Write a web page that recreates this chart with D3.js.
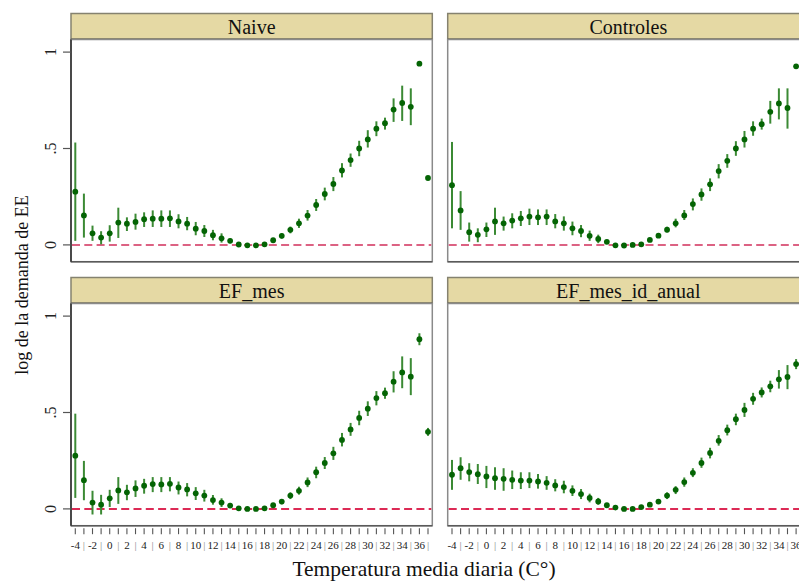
<!DOCTYPE html>
<html><head><meta charset="utf-8">
<script src="https://cdn.jsdelivr.net/npm/d3@7"></script>
<style>body{margin:0;background:#fff} svg{display:block}</style>
</head><body><svg id="c" width="799" height="581"></svg>
<script>
const temps = [-4,-3,-2,-1,0,1,2,3,4,5,6,7,8,9,10,11,12,13,14,15,16,17,18,19,20,21,22,23,24,25,26,27,28,29,30,31,32,33,34,35,36,37];
const xTickLabels = ["-4","|","-2","|","0","|","2","|","4","|","6","|","8","|","10","|","12","|","14","|","16","|","18","|","20","|","22","|","24","|","26","|","28","|","30","|","32","|","34","|","36","|"];
const yTicks = [0, 0.5, 1];
const yTickLabels = ["0", ".5", "1"];
const panelTitles = ["Naive", "Controles", "EF_mes", "EF_mes_id_anual"];

const naiveEst = [0.276,0.153,0.060,0.038,0.060,0.116,0.110,0.119,0.133,0.136,0.136,0.138,0.122,0.110,0.084,0.072,0.050,0.034,0.021,0.002,-0.002,-0.002,0.003,0.024,0.047,0.078,0.112,0.152,0.207,0.264,0.316,0.386,0.440,0.500,0.547,0.603,0.631,0.702,0.736,0.716,0.940,0.347];
const naiveLo  = [0.021,0.038,0.021,0.003,0.017,0.036,0.072,0.079,0.093,0.093,0.093,0.093,0.086,0.076,0.050,0.041,0.024,0.012,0.009,-0.004,-0.006,-0.006,-0.001,0.015,0.033,0.060,0.088,0.126,0.176,0.231,0.279,0.350,0.405,0.460,0.505,0.564,0.598,0.638,0.643,0.621,0.940,0.347];
const naiveHi  = [0.531,0.266,0.100,0.071,0.102,0.193,0.143,0.162,0.169,0.179,0.179,0.179,0.159,0.145,0.119,0.103,0.078,0.060,0.033,0.008,0.002,0.002,0.007,0.033,0.060,0.095,0.136,0.181,0.238,0.297,0.352,0.424,0.474,0.540,0.595,0.641,0.660,0.760,0.826,0.812,0.940,0.347];

const ctrlEst = [0.310,0.179,0.066,0.052,0.081,0.122,0.112,0.126,0.138,0.147,0.143,0.147,0.122,0.112,0.086,0.072,0.047,0.031,0.016,-0.002,-0.003,0.000,0.003,0.026,0.048,0.079,0.112,0.153,0.212,0.262,0.314,0.383,0.436,0.500,0.547,0.603,0.626,0.690,0.734,0.710,0.926,0.350];
const ctrlLo  = [0.086,0.078,0.017,0.014,0.041,0.052,0.074,0.086,0.098,0.103,0.103,0.103,0.086,0.074,0.050,0.040,0.021,0.009,0.005,-0.006,-0.007,-0.004,-0.001,0.018,0.036,0.064,0.091,0.129,0.179,0.229,0.279,0.345,0.400,0.462,0.505,0.566,0.598,0.629,0.651,0.603,0.926,0.350];
const ctrlHi  = [0.534,0.279,0.116,0.086,0.116,0.193,0.147,0.164,0.176,0.188,0.184,0.184,0.160,0.148,0.121,0.103,0.074,0.053,0.026,0.002,0.001,0.004,0.007,0.034,0.060,0.094,0.136,0.181,0.241,0.293,0.345,0.419,0.471,0.538,0.591,0.641,0.655,0.747,0.812,0.812,0.926,0.350];

const efmEst = [0.276,0.149,0.033,0.022,0.055,0.096,0.086,0.106,0.120,0.129,0.127,0.130,0.111,0.101,0.081,0.069,0.046,0.033,0.017,0.003,0.000,0.000,0.003,0.019,0.038,0.069,0.094,0.137,0.190,0.238,0.288,0.358,0.412,0.472,0.520,0.575,0.600,0.660,0.708,0.686,0.880,0.400];
const efmLo  = [0.057,0.045,-0.029,-0.029,0.010,0.026,0.045,0.062,0.079,0.087,0.087,0.091,0.075,0.065,0.046,0.038,0.022,0.010,0.005,-0.002,-0.004,-0.004,-0.001,0.012,0.024,0.051,0.074,0.113,0.159,0.207,0.254,0.324,0.379,0.434,0.482,0.537,0.571,0.604,0.626,0.590,0.849,0.379];
const efmHi  = [0.494,0.249,0.094,0.073,0.099,0.165,0.125,0.148,0.156,0.165,0.165,0.165,0.142,0.134,0.113,0.099,0.072,0.055,0.031,0.008,0.004,0.004,0.007,0.026,0.051,0.086,0.115,0.163,0.219,0.269,0.322,0.394,0.446,0.509,0.558,0.611,0.629,0.714,0.791,0.782,0.911,0.420];

const efaEst = [0.177,0.211,0.191,0.180,0.168,0.159,0.156,0.151,0.147,0.147,0.142,0.135,0.122,0.113,0.094,0.077,0.057,0.039,0.019,0.007,0.000,0.000,0.009,0.022,0.038,0.069,0.099,0.139,0.187,0.238,0.290,0.353,0.408,0.465,0.513,0.571,0.604,0.636,0.672,0.684,0.751,0.760];
const efaLo  = [0.099,0.151,0.143,0.129,0.108,0.099,0.094,0.103,0.103,0.108,0.105,0.099,0.091,0.081,0.067,0.051,0.034,0.021,0.009,0.001,-0.004,-0.004,0.003,0.014,0.027,0.051,0.077,0.115,0.165,0.213,0.262,0.328,0.381,0.434,0.477,0.540,0.578,0.605,0.624,0.621,0.725,0.730];
const efaHi  = [0.254,0.268,0.237,0.233,0.223,0.216,0.211,0.199,0.190,0.190,0.181,0.170,0.154,0.146,0.122,0.103,0.079,0.057,0.029,0.013,0.004,0.004,0.015,0.030,0.049,0.086,0.118,0.163,0.211,0.266,0.317,0.383,0.437,0.494,0.550,0.602,0.630,0.665,0.720,0.746,0.777,0.790];

const panels = [
  {title: panelTitles[0], est: naiveEst, lo: naiveLo, hi: naiveHi, col: 0, row: 0},
  {title: panelTitles[1], est: ctrlEst,  lo: ctrlLo,  hi: ctrlHi,  col: 1, row: 0},
  {title: panelTitles[2], est: efmEst,   lo: efmLo,   hi: efmHi,   col: 0, row: 1},
  {title: panelTitles[3], est: efaEst,   lo: efaLo,   hi: efaHi,   col: 1, row: 1}
];

const svg = d3.select("#c");
const serif = "'Liberation Serif','DejaVu Serif',serif";
const colX = [71, 447.7];
const rowY = [39.5, 303.5];
const pw = 361.3, ph = 222.2, stripH = 26;

const x = d3.scaleLinear().domain([-4.5, 37.5]).range([0, pw]);
const y = d3.scaleLinear().domain([0, 1]).range([205.4, 12.6]);

panels.forEach(p => {
  const g = svg.append("g").attr("transform", `translate(${colX[p.col]},${rowY[p.row]})`);
  g.append("rect").attr("x", 0).attr("y", -stripH).attr("width", pw).attr("height", stripH)
    .attr("fill", "#e5d9a4").attr("stroke", "#85826f").attr("stroke-width", 1.5);
  g.append("line").attr("x1", 0).attr("x2", pw).attr("y1", 0).attr("y2", 0)
    .attr("stroke", "#4f4d40").attr("stroke-width", 2);
  g.append("text").attr("x", pw / 2).attr("y", -stripH / 2 + 7).attr("text-anchor", "middle")
    .attr("font-family", serif).attr("font-size", 20).attr("fill", "#111").text(p.title);
  g.append("rect").attr("x", 0).attr("y", 0).attr("width", pw).attr("height", ph)
    .attr("fill", "#fff").attr("stroke", "#8a8a8a").attr("stroke-width", 1.5);
  g.append("line").attr("x1", 0).attr("x2", pw).attr("y1", ph).attr("y2", ph)
    .attr("stroke", "#5a5a5a").attr("stroke-width", 1.5);
  g.append("line").attr("x1", 1).attr("x2", pw - 1).attr("y1", y(0)).attr("y2", y(0))
    .attr("stroke", p.row === 0 ? "#dc6283" : "#dc2a55").attr("stroke-width", 2)
    .attr("stroke-dasharray", "8,4.3");
  g.selectAll("line.ci").data(temps.map((t, i) => i)).enter().append("line").attr("class", "ci")
    .attr("x1", i => x(temps[i])).attr("x2", i => x(temps[i]))
    .attr("y1", i => y(p.lo[i])).attr("y2", i => y(p.hi[i]))
    .attr("stroke", "#3b8a34").attr("stroke-width", 2);
  g.selectAll("circle").data(temps.map((t, i) => i)).enter().append("circle")
    .attr("cx", i => x(temps[i])).attr("cy", i => y(p.est[i])).attr("r", 2.9)
    .attr("fill", "#046404");
  if (p.col === 0) {
    g.append("line").attr("x1", 0).attr("x2", 0).attr("y1", 0).attr("y2", ph)
      .attr("stroke", "#333").attr("stroke-width", 1.6);
    yTicks.forEach((v, k) => {
      g.append("line").attr("x1", -8).attr("x2", 0).attr("y1", y(v)).attr("y2", y(v))
        .attr("stroke", "#555").attr("stroke-width", 1.2);
      g.append("text").attr("transform", `translate(${-15},${y(v)}) rotate(-90)`)
        .attr("text-anchor", "middle").attr("font-family", serif).attr("font-size", 16)
        .attr("fill", "#222").text(yTickLabels[k]);
    });
  }
  if (p.row === 1) {
    temps.forEach((t, k) => {
      g.append("line").attr("x1", x(t)).attr("x2", x(t)).attr("y1", ph + 2.5).attr("y2", ph + 8.5)
        .attr("stroke", "#555").attr("stroke-width", 1.1);
      g.append("text").attr("x", x(t)).attr("y", ph + 23).attr("text-anchor", "middle")
        .attr("font-family", serif).attr("font-size", 11)
        .attr("fill", xTickLabels[k] === "|" ? "#8a8a8a" : "#222").text(xTickLabels[k]);
    });
  }
});

svg.append("text").attr("transform", "translate(28,285) rotate(-90)").attr("text-anchor", "middle")
  .attr("font-family", serif).attr("font-size", 18).attr("fill", "#111").text("log de la demanda de EE");
svg.append("text").attr("x", 424).attr("y", 576).attr("text-anchor", "middle")
  .attr("font-family", serif).attr("font-size", 21.5).attr("fill", "#111").text("Temperatura media diaria (C°)");
</script></body></html>
